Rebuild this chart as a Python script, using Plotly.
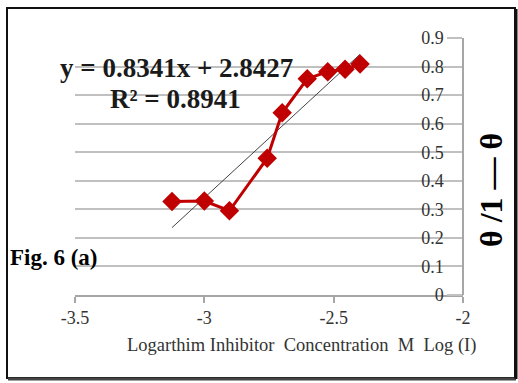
import plotly.graph_objects as go

# Data
log_conc = [-3.125, -3.0, -2.903, -2.757, -2.699, -2.602, -2.523, -2.456, -2.398]
theta_ratio = [0.327, 0.329, 0.295, 0.479, 0.638, 0.757, 0.782, 0.791, 0.809]

# Linear trendline endpoints (y = 0.8341x + 2.8427)
trend_x = [-3.125, -2.398]
trend_y = [0.236, 0.843]

x_ticks = [-3.5, -3, -2.5, -2]
x_tick_text = ["-3.5", "-3", "-2.5", "-2"]
y_ticks = [0, 0.1, 0.2, 0.3, 0.4, 0.5, 0.6, 0.7, 0.8, 0.9]
y_tick_text = ["0", "0.1", "0.2", "0.3", "0.4", "0.5", "0.6", "0.7", "0.8", "0.9"]

W, H = 518, 383
L, R, T, B = 75, 55, 38, 88
PW, PH = W - L - R, H - T - B


def px(x):
    return (x - L) / PW


def py(y):
    return (H - B - y) / PH


fig = go.Figure()
fig.add_trace(go.Scatter(
    x=trend_x, y=trend_y, mode="lines",
    line=dict(color="#444444", width=1), hoverinfo="skip", showlegend=False))
fig.add_trace(go.Scatter(
    x=log_conc, y=theta_ratio, mode="lines+markers",
    line=dict(color="#c00000", width=3),
    marker=dict(symbol="diamond", size=15, color="#c00000"),
    showlegend=False))

serif = "Liberation Serif"

fig.update_layout(
    width=W, height=H,
    margin=dict(l=L, r=R, t=T, b=B),
    paper_bgcolor="white", plot_bgcolor="white",
    font=dict(family=serif, color="#333333", size=18),
    xaxis=dict(
        range=[-3.5, -2], tickvals=x_ticks, ticktext=x_tick_text,
        showgrid=False, zeroline=False, showline=True, linecolor="#a6a6a6", linewidth=1.5,
        ticks="outside", ticklen=6, tickcolor="#a6a6a6", tickwidth=1.5,
        tickfont=dict(size=18, color="#333333", family=serif),
    ),
    yaxis=dict(
        range=[0, 0.9], tickvals=y_ticks, ticktext=y_tick_text,
        side="left", anchor="free", position=1,
        showgrid=True, gridcolor="#c0c0c0", gridwidth=1.5,
        zeroline=False, showline=True, linecolor="#a6a6a6", linewidth=1.5,
        ticks="outside", ticklen=15, tickcolor="#c0c0c0", tickwidth=1.5,
        tickfont=dict(size=18, color="#333333", family=serif),
    ),
    annotations=[
        dict(text="<b>y = 0.8341x + 2.8427</b>", xref="paper", yref="paper",
             x=px(176), y=py(68), showarrow=False,
             font=dict(size=27, color="#1a1a1a", family=serif),
             xanchor="center", yanchor="middle"),
        dict(text="<b>R² = 0.8941</b>", xref="paper", yref="paper",
             x=px(175), y=py(99), showarrow=False,
             font=dict(size=27, color="#1a1a1a", family=serif),
             xanchor="center", yanchor="middle"),
        dict(text="<b>Fig. 6 (a)</b>", xref="paper", yref="paper",
             x=px(8), y=py(257), showarrow=False,
             font=dict(size=23, color="#000000", family=serif),
             xanchor="left", yanchor="middle"),
        dict(text="Logarthim Inhibitor  Concentration  M  Log (I)", xref="paper", yref="paper",
             x=px(301), y=py(345), showarrow=False,
             font=dict(size=18.5, color="#333333", family=serif),
             xanchor="center", yanchor="middle"),
        dict(text="<b>θ /1 — θ</b>", xref="paper", yref="paper", textangle=-90,
             x=px(491), y=py(190), showarrow=False,
             font=dict(size=32, color="#000000", family=serif),
             xanchor="center", yanchor="middle"),
    ],
    shapes=[
        dict(type="rect", xref="paper", yref="paper", layer="above",
             x0=px(7), x1=px(515), y0=py(378), y1=py(8),
             line=dict(color="#111111", width=2)),
        dict(type="line", xref="paper", yref="paper", layer="above",
             x0=px(8), x1=px(516), y0=py(379), y1=py(379),
             line=dict(color="#444444", width=3)),
        dict(type="line", xref="paper", yref="paper", layer="above",
             x0=px(516), x1=px(516), y0=py(379), y1=py(9),
             line=dict(color="#111111", width=3)),
    ],
)

fig.write_html("out.html", config={"displayModeBar": False},
               post_script="document.body.style.margin='0px';")
